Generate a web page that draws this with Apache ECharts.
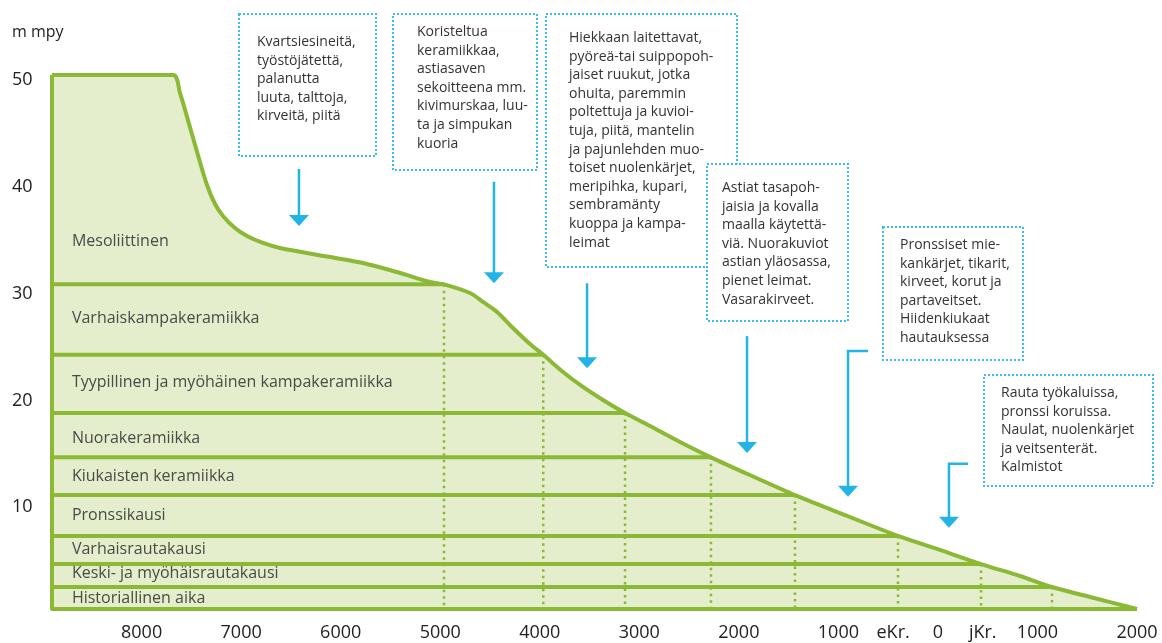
<!DOCTYPE html>
<html>
<head>
<meta charset="utf-8">
<script src="https://cdn.jsdelivr.net/npm/echarts@6/dist/echarts.min.js"></script>
<style>
  html, body { margin: 0; padding: 0; background: #fff; }
  #main { width: 1162px; height: 643px; }
</style>
</head>
<body>
<div id="main"></div>
<script>
// maankohoamiskäyrä: vuosi (eKr. negatiivisena) ja korkeus m mpy
var curveYears = [-8900, -7684, -7614, -7544, -7443, -7343, -7262, -7182, -7062, -6941, -6780, -6610, -6107,
    -5776, -5434, -5103, -4962, -4701, -4570, -4429, -4269, -4098, -3965, -3766, -3566, -3365, -3143,
    -2892, -2591, -2280, -1868, -1436, -1084, -401, -9, 433, 825, 1146, 1558, 2000];
var curveHeights = [50, 50, 48.3, 46.1, 42.8, 39.7, 37.92, 36.8, 35.67, 34.93, 34.27, 33.8, 32.96,
    32.4, 31.55, 30.62, 30.4, 29.59, 28.75, 27.81, 26.31, 24.81, 23.8, 22.19, 20.79, 19.57, 18.35,
    17.13, 15.64, 14.2, 12.45, 10.67, 9.36, 6.84, 5.62, 4.21, 3.09, 2.06, 1.05, 0];

// kausien rajat: korkeus ja vuosi jossa raja kohtaa käyrän
var bandLevels = [30.4, 23.8, 18.35, 14.2, 10.67, 6.84, 4.21, 2.06];
var bandEnds = [-4962, -3965, -3143, -2280, -1436, -401, 433, 1146];

var periodNames = ['Mesoliittinen', 'Varhaiskampakeramiikka', 'Tyypillinen ja myöhäinen kampakeramiikka',
    'Nuorakeramiikka', 'Kiukaisten keramiikka', 'Pronssikausi', 'Varhaisrautakausi',
    'Keski- ja myöhäisrautakausi', 'Historiallinen aika'];
var periodLabelHeights = [34.4, 27.2, 21.2, 16.0, 12.4, 8.8, 5.6, 3.35, 1.0];

var xTickValues = [-8000, -7000, -6000, -5000, -4000, -3000, -2000, -1000, -450, 0, 450, 1000, 2000];
var startYear = -8900;

// huomautukset: teksti ja nuoli (vuosi, alku- ja kärkikorkeus, mutkan alkuvuosi)
var notes = [
    'Kvartsiesineitä,\ntyöstöjätettä,\npalanutta\nluuta, talttoja,\nkirveitä, piitä',
    'Koristeltua\nkeramiikkaa,\nastiasaven\nsekoitteena mm.\nkivimurskaa, luu-\nta ja simpukan\nkuoria',
    'Hiekkaan laitettavat,\npyöreä-tai suippopoh-\njaiset ruukut, jotka\nohuita, paremmin\npoltettuja ja kuvioi-\ntuja, piitä, mantelin\nja pajunlehden muo-\ntoiset nuolenkärjet,\nmeripihka, kupari,\nsembramänty\nkuoppa ja kampa-\nleimat',
    'Astiat tasapoh-\njaisia ja kovalla\nmaalla käytettä-\nviä. Nuorakuviot\nastian yläosassa,\npienet leimat.\nVasarakirveet.',
    'Pronssiset mie-\nkankärjet, tikarit,\nkirveet, korut ja\npartaveitset.\nHiidenkiukaat\nhautauksessa',
    'Rauta työkaluissa,\npronssi koruissa.\nNaulat, nuolenkärjet\nja veitsenterät.\nKalmistot'
];
var arrowYears = [-6419, -4460, -3525, -1918, -903, 111];
var arrowFrom = [41.2, 40.0, 30.5, 25.55, 24.15, 13.6];
var arrowTo = [35.85, 30.5, 22.55, 14.6, 10.5, 7.6];
var arrowElbow = [null, null, null, null, -702, 302];

var green = '#8bb935';
var fill = '#e4edcc';
var blue = '#22b4e6';
var font = 'Open Sans';

var chart = echarts.init(document.getElementById('main'));

var curveData = curveYears.map(function(y, i) { return [y, curveHeights[i]]; });

var series = [];
series.push({
    type: 'line',
    data: curveData,
    smooth: 0.3,
    symbol: 'none',
    lineStyle: { width: 0 },
    areaStyle: { color: fill, opacity: 1 },
    silent: true,
    z: 1
});
bandEnds.forEach(function(end, i) {
    series.push({
        type: 'line',
        data: [[end, bandLevels[i]], [end, 0]],
        symbol: 'none',
        lineStyle: { color: green, width: 2.5, type: [2.5, 4] },
        silent: true,
        z: 2
    });
    series.push({
        type: 'line',
        data: [[startYear, bandLevels[i]], [end, bandLevels[i]]],
        symbol: 'none',
        lineStyle: { color: green, width: 4 },
        silent: true,
        z: 3
    });
});
// vasen reuna ja pohja
series.push({
    type: 'line',
    data: [[startYear, 50], [startYear, 0], [2000, 0]],
    symbol: 'none',
    lineStyle: { color: green, width: 4, join: 'round' },
    silent: true,
    z: 3
});
series.push({
    type: 'line',
    data: curveData,
    smooth: 0.3,
    symbol: 'none',
    lineStyle: { color: green, width: 4, join: 'round' },
    silent: true,
    z: 4
});
series.push({
    type: 'scatter',
    data: periodNames.map(function(n, i) { return [startYear + 200, periodLabelHeights[i], n]; }),
    symbolSize: 0,
    label: {
        show: true,
        position: 'right',
        distance: 0,
        formatter: function(p) { return p.data[2]; },
        fontFamily: font,
        fontSize: 16,
        color: '#222'
    },
    silent: true,
    z: 5
});

chart.setOption({
    animation: false,
    title: {
        text: 'm mpy',
        left: 12,
        top: 24,
        padding: 0,
        textStyle: { fontFamily: font, fontSize: 16, fontWeight: 'normal', color: '#222' }
    },
    grid: { left: 52, right: 25, top: 75, bottom: 34, outerBoundsMode: 'none' },
    xAxis: {
        type: 'value',
        min: startYear,
        max: 2000,
        axisLine: { show: false },
        axisTick: { show: false, customValues: xTickValues },
        splitLine: { show: false },
        axisLabel: {
            customValues: xTickValues,
            margin: 15,
            fontFamily: font,
            fontSize: 18,
            color: '#222',
            formatter: function(v) {
                if (v === -450) return 'eKr.';
                if (v === 450) return 'jKr.';
                return String(Math.abs(v));
            }
        }
    },
    yAxis: {
        type: 'value',
        min: 0,
        max: 50,
        interval: 10,
        axisLine: { show: false },
        axisTick: { show: false },
        splitLine: { show: false },
        axisLabel: {
            align: 'left',
            margin: 40,
            fontFamily: font,
            fontSize: 18,
            color: '#222',
            formatter: function(v) { return v === 0 ? '' : '{a|' + v + '}'; },
            rich: {
                a: { fontFamily: font, fontSize: 18, color: '#222', padding: [10, 0, 0, 0] }
            }
        }
    },
    series: series
});

// huomautuslaatikot (sijoittelu pikseleinä)
var boxes = [
    { x: 239, y: 14, w: 137, h: 142, tx: 257, ty: 42 },
    { x: 393, y: 14, w: 144, h: 156, tx: 417, ty: 32 },
    { x: 546, y: 14, w: 191, h: 253, tx: 569, ty: 38 },
    { x: 707, y: 164, w: 141, h: 157, tx: 722, ty: 188 },
    { x: 883, y: 227, w: 140, h: 133, tx: 900, ty: 245 },
    { x: 984, y: 375, w: 169, h: 111, tx: 1001, ty: 393 }
];
var lh = 18.6;
var graphics = [];
boxes.forEach(function(b, i) {
    graphics.push({
        type: 'rect',
        shape: { x: b.x, y: b.y, width: b.w, height: b.h },
        style: { fill: '#fff', stroke: '#3dbbea', lineWidth: 2, lineDash: [2, 2] },
        z: 10 + i * 2
    });
    graphics.push({
        type: 'text',
        x: b.tx,
        y: b.ty - lh / 2,
        style: {
            text: notes[i],
            font: '14px "' + font + '"',
            lineHeight: lh,
            fill: '#333',
            verticalAlign: 'top'
        },
        z: 11 + i * 2
    });
});
arrowYears.forEach(function(yr, i) {
    var top = chart.convertToPixel({ gridIndex: 0 }, [yr, arrowFrom[i]]);
    var tip = chart.convertToPixel({ gridIndex: 0 }, [yr, arrowTo[i]]);
    var pts = [[top[0], top[1]], [tip[0], tip[1] - 10]];
    if (arrowElbow[i] !== null) {
        var s = chart.convertToPixel({ gridIndex: 0 }, [arrowElbow[i], arrowFrom[i]]);
        pts.unshift([s[0], s[1]]);
    }
    graphics.push({
        type: 'polyline',
        shape: { points: pts },
        style: { stroke: blue, lineWidth: 2.5, fill: null },
        z: 30
    });
    graphics.push({
        type: 'polygon',
        shape: { points: [[tip[0] - 10, tip[1] - 11], [tip[0] + 10, tip[1] - 11], [tip[0], tip[1]]] },
        style: { fill: blue },
        z: 30
    });
});
chart.setOption({ graphic: graphics });
</script>
</body>
</html>
